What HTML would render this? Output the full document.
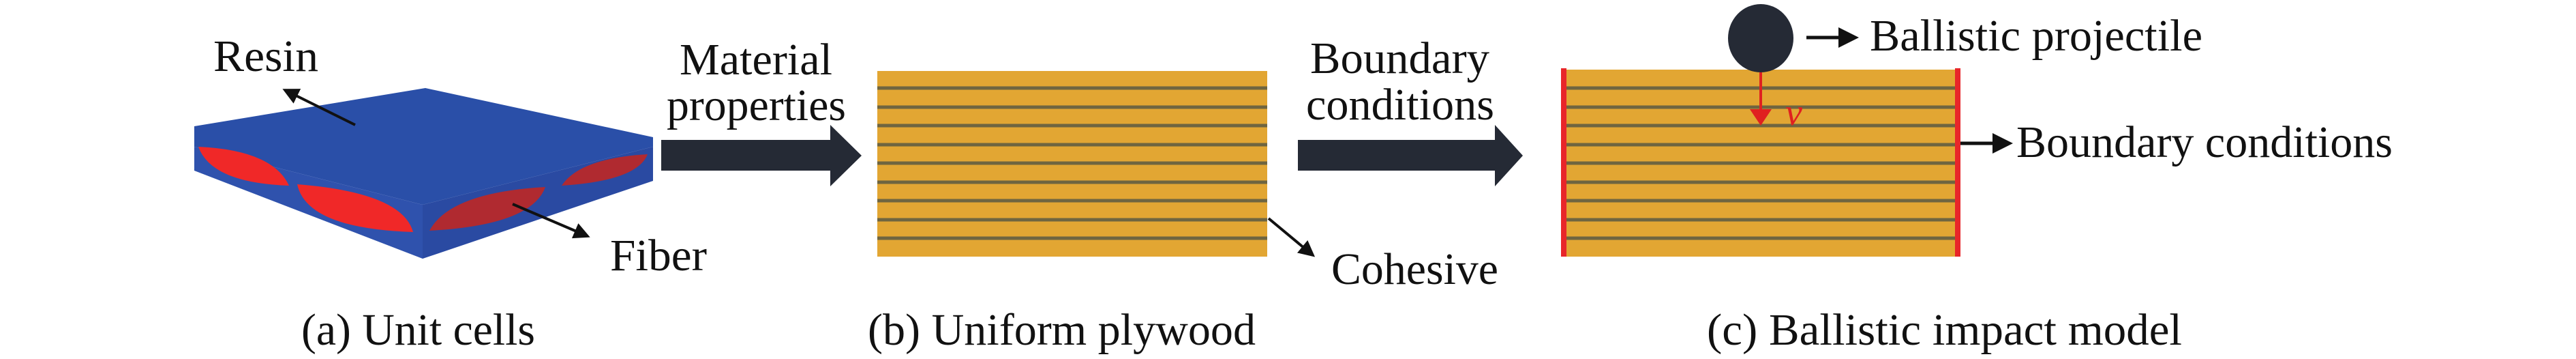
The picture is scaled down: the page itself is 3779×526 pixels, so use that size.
<!DOCTYPE html>
<html><head><meta charset="utf-8"><style>
html,body{margin:0;padding:0;background:#fff;}
svg{display:block}
svg text{font-family:'Liberation Serif','DejaVu Serif','Noto Serif CJK SC',serif;}
</style></head><body>
<svg width="3779" height="526" viewBox="0 0 3779 526" xmlns="http://www.w3.org/2000/svg" font-family="'Liberation Serif','DejaVu Serif',serif" font-size="66" fill="#111">
<defs>
<marker id="ah" markerWidth="6" markerHeight="6" refX="5" refY="3" orient="auto" markerUnits="strokeWidth"><path d="M0,0 L6,3 L0,6 z" fill="#111"/></marker>
<marker id="ahr" markerWidth="6" markerHeight="8" refX="5" refY="4" orient="auto" markerUnits="strokeWidth"><path d="M0,0 L6,4 L0,8 z" fill="#e02020"/></marker>
</defs>
<polygon points="624,129 285,185 285,215 620,300 958,215 958,201" fill="#2a4fa8"/>
<polygon points="285,215 620,300 620,379 285,250" fill="#2f52ad"/>
<polygon points="620,300 958,215 958,265 620,379" fill="#2a4aa2"/>
<path d="M291,215 Q400,220 424,272 Q310,268 291,215z" fill="#f02828"/>
<path d="M436,270 Q590,282 606,340 Q450,335 436,270z" fill="#f02828"/>
<path d="M630,338 Q660,282 800,274 Q780,330 630,338z" fill="#b02a30"/>
<path d="M824,272 Q850,232 950,226 Q935,265 824,272z" fill="#b02a30"/>
<line x1="521" y1="183" x2="418" y2="132" stroke="#111" stroke-width="4" marker-end="url(#ah)"/>
<line x1="752" y1="299" x2="862" y2="346" stroke="#111" stroke-width="4" marker-end="url(#ah)"/>
<text x="313" y="104" textLength="154" lengthAdjust="spacingAndGlyphs">Resin</text>
<text x="895" y="396" textLength="142" lengthAdjust="spacingAndGlyphs">Fiber</text>
<text x="442" y="505" textLength="343" lengthAdjust="spacingAndGlyphs">(a) Unit cells</text>
<polygon points="970,205 1218,205 1218,183 1264,228 1218,273 1218,250 970,250" fill="#252a35"/>
<text x="997" y="109" textLength="224" lengthAdjust="spacingAndGlyphs">Material</text>
<text x="978" y="176" textLength="263" lengthAdjust="spacingAndGlyphs">properties</text>
<rect x="1287" y="104" width="572" height="272" fill="#e2a633"/>
<g stroke="#6f6540" stroke-width="5">
<line x1="1287" y1="129" x2="1859" y2="129"/><line x1="1287" y1="157" x2="1859" y2="157"/><line x1="1287" y1="184" x2="1859" y2="184"/><line x1="1287" y1="212" x2="1859" y2="212"/><line x1="1287" y1="239" x2="1859" y2="239"/><line x1="1287" y1="267" x2="1859" y2="267"/><line x1="1287" y1="294" x2="1859" y2="294"/><line x1="1287" y1="322" x2="1859" y2="322"/><line x1="1287" y1="349" x2="1859" y2="349"/>
</g>
<line x1="1861" y1="320" x2="1926" y2="374" stroke="#111" stroke-width="4" marker-end="url(#ah)"/>
<text x="1953" y="416" textLength="245" lengthAdjust="spacingAndGlyphs">Cohesive</text>
<text x="1273" y="505" textLength="569" lengthAdjust="spacingAndGlyphs">(b) Uniform plywood</text>
<polygon points="1904,205 2193,205 2193,183 2234,228 2193,273 2193,250 1904,250" fill="#252a35"/>
<text x="1922" y="107" textLength="263" lengthAdjust="spacingAndGlyphs">Boundary</text>
<text x="1916" y="175" textLength="276" lengthAdjust="spacingAndGlyphs">conditions</text>
<rect x="2292" y="102" width="582" height="274" fill="#e2a633"/>
<g stroke="#6f6540" stroke-width="5">
<line x1="2296" y1="129" x2="2870" y2="129"/><line x1="2296" y1="157" x2="2870" y2="157"/><line x1="2296" y1="184" x2="2870" y2="184"/><line x1="2296" y1="212" x2="2870" y2="212"/><line x1="2296" y1="239" x2="2870" y2="239"/><line x1="2296" y1="267" x2="2870" y2="267"/><line x1="2296" y1="294" x2="2870" y2="294"/><line x1="2296" y1="322" x2="2870" y2="322"/><line x1="2296" y1="349" x2="2870" y2="349"/>
</g>
<rect x="2290" y="100" width="8" height="276" fill="#e8262a"/>
<rect x="2868" y="100" width="8" height="276" fill="#e8262a"/>
<ellipse cx="2583" cy="56" rx="48" ry="50" fill="#252a35"/>
<line x1="2583" y1="106" x2="2583" y2="180" stroke="#e02020" stroke-width="4" marker-end="url(#ahr)"/>
<text x="2619" y="183" font-style="italic" fill="#e02020" font-size="56">v</text>
<line x1="2650" y1="55" x2="2722" y2="55" stroke="#111" stroke-width="5" marker-end="url(#ah)"/>
<text x="2743" y="74" textLength="488" lengthAdjust="spacingAndGlyphs">Ballistic projectile</text>
<line x1="2876" y1="210" x2="2948" y2="210" stroke="#111" stroke-width="5" marker-end="url(#ah)"/>
<text x="2958" y="230" textLength="552" lengthAdjust="spacingAndGlyphs">Boundary conditions</text>
<text x="2504" y="505" textLength="697" lengthAdjust="spacingAndGlyphs">(c) Ballistic impact model</text>
</svg>
</body></html>
